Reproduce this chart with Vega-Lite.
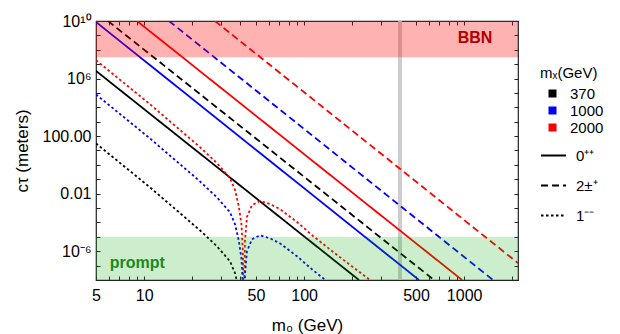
{
  "$schema": "https://vega.github.io/schema/vega-lite/v6.json",
  "width": 422,
  "height": 259,
  "autosize": {"type": "none"},
  "padding": {"left": 96, "top": 21, "right": 102, "bottom": 54},
  "background": "white",
  "data": {"values": [{"one": 1}]},
  "config": {
    "view": {"stroke": "#222222", "strokeWidth": 1.2, "strokeOpacity": 1},
    "font": "Liberation Sans",
    "axis": {
      "grid": false,
      "domain": false,
      "ticks": true,
      "offset": -4,
      "tickColor": "#222222",
      "tickOpacity": 1,
      "tickWidth": 1,
      "tickSize": 4,
      "labelFont": "Liberation Sans",
      "labelFontSize": 16,
      "labelColor": "#000000",
      "labelFlush": false,
      "labelOverlap": false,
      "titleFont": "Liberation Sans",
      "titleFontSize": 17,
      "titleFontWeight": "normal",
      "titleColor": "#000000"
    },
    "legend": {
      "labelFont": "Liberation Sans",
      "titleFont": "Liberation Sans",
      "labelFontSize": 15,
      "titleFontSize": 15,
      "titleFontWeight": "normal",
      "labelColor": "#000000",
      "titleColor": "#000000",
      "padding": 0
    }
  },
  "datasets": {
    "lines": [
      {"mx": "370", "par": "0⁺⁺", "m": 5, "ct": 3.4e6},
      {"mx": "370", "par": "0⁺⁺", "m": 220, "ct": 1e-8},
      {"mx": "1000", "par": "0⁺⁺", "m": 5, "ct": 8.5e9},
      {"mx": "1000", "par": "0⁺⁺", "m": 522, "ct": 1e-8},
      {"mx": "2000", "par": "0⁺⁺", "m": 9.02, "ct": 1e10},
      {"mx": "2000", "par": "0⁺⁺", "m": 970, "ct": 1e-8},
      {"mx": "370", "par": "2±⁺", "m": 5.94, "ct": 1e10},
      {"mx": "370", "par": "2±⁺", "m": 648, "ct": 1e-8},
      {"mx": "1000", "par": "2±⁺", "m": 14.3, "ct": 1e10},
      {"mx": "1000", "par": "2±⁺", "m": 1514, "ct": 1e-8},
      {"mx": "2000", "par": "2±⁺", "m": 27.7, "ct": 1e10},
      {"mx": "2000", "par": "2±⁺", "m": 2170, "ct": 1.5e-7},
      {"mx": "2000", "par": "1⁻⁻", "m": 5, "ct": 1.88e7},
      {"mx": "2000", "par": "1⁻⁻", "m": 10.87, "ct": 1.66e4},
      {"mx": "2000", "par": "1⁻⁻", "m": 22.3, "ct": 17.2},
      {"mx": "2000", "par": "1⁻⁻", "m": 28.5, "ct": 1.33},
      {"mx": "2000", "par": "1⁻⁻", "m": 34.4, "ct": 0.121},
      {"mx": "2000", "par": "1⁻⁻", "m": 37.0, "ct": 0.0178},
      {"mx": "2000", "par": "1⁻⁻", "m": 39.1, "ct": 1.18e-3},
      {"mx": "2000", "par": "1⁻⁻", "m": 40.6, "ct": 6.6e-5},
      {"mx": "2000", "par": "1⁻⁻", "m": 41.35, "ct": 1.22e-6},
      {"mx": "2000", "par": "1⁻⁻", "m": 41.65, "ct": 1e-8},
      {"mx": "2000", "par": "1⁻⁻", "m": 41.8, "ct": 1e-12},
      {"mx": "2000", "par": "1⁻⁻", "m": 42.7, "ct": 6.05e-6},
      {"mx": "2000", "par": "1⁻⁻", "m": 43.9, "ct": 2.38e-4},
      {"mx": "2000", "par": "1⁻⁻", "m": 47.2, "ct": 1.62e-3},
      {"mx": "2000", "par": "1⁻⁻", "m": 53.0, "ct": 3.08e-3},
      {"mx": "2000", "par": "1⁻⁻", "m": 61.2, "ct": 1.9e-3},
      {"mx": "2000", "par": "1⁻⁻", "m": 70.6, "ct": 8.5e-4},
      {"mx": "2000", "par": "1⁻⁻", "m": 90.2, "ct": 1.07e-4},
      {"mx": "2000", "par": "1⁻⁻", "m": 113.6, "ct": 1.15e-5},
      {"mx": "2000", "par": "1⁻⁻", "m": 160.4, "ct": 5.5e-7},
      {"mx": "2000", "par": "1⁻⁻", "m": 257.9, "ct": 1e-8},
      {"mx": "1000", "par": "1⁻⁻", "m": 5, "ct": 7.84e4},
      {"mx": "1000", "par": "1⁻⁻", "m": 10.87, "ct": 69.2},
      {"mx": "1000", "par": "1⁻⁻", "m": 22.3, "ct": 0.0717},
      {"mx": "1000", "par": "1⁻⁻", "m": 28.5, "ct": 5.54e-3},
      {"mx": "1000", "par": "1⁻⁻", "m": 34.4, "ct": 5.04e-4},
      {"mx": "1000", "par": "1⁻⁻", "m": 37.0, "ct": 7.42e-5},
      {"mx": "1000", "par": "1⁻⁻", "m": 39.1, "ct": 4.92e-6},
      {"mx": "1000", "par": "1⁻⁻", "m": 40.6, "ct": 2.75e-7},
      {"mx": "1000", "par": "1⁻⁻", "m": 41.35, "ct": 5.09e-9},
      {"mx": "1000", "par": "1⁻⁻", "m": 41.8, "ct": 1e-12},
      {"mx": "1000", "par": "1⁻⁻", "m": 42.7, "ct": 2.52e-8},
      {"mx": "1000", "par": "1⁻⁻", "m": 43.9, "ct": 9.92e-7},
      {"mx": "1000", "par": "1⁻⁻", "m": 47.2, "ct": 6.75e-6},
      {"mx": "1000", "par": "1⁻⁻", "m": 53.0, "ct": 1.28e-5},
      {"mx": "1000", "par": "1⁻⁻", "m": 61.2, "ct": 7.9e-6},
      {"mx": "1000", "par": "1⁻⁻", "m": 70.6, "ct": 3.5e-6},
      {"mx": "1000", "par": "1⁻⁻", "m": 90.2, "ct": 4.46e-7},
      {"mx": "1000", "par": "1⁻⁻", "m": 113.6, "ct": 4.8e-8},
      {"mx": "1000", "par": "1⁻⁻", "m": 160.4, "ct": 2.3e-9},
      {"mx": "370", "par": "1⁻⁻", "m": 5, "ct": 31.2},
      {"mx": "370", "par": "1⁻⁻", "m": 10.87, "ct": 0.0276},
      {"mx": "370", "par": "1⁻⁻", "m": 22.3, "ct": 2.86e-5},
      {"mx": "370", "par": "1⁻⁻", "m": 28.5, "ct": 2.2e-6},
      {"mx": "370", "par": "1⁻⁻", "m": 34.4, "ct": 2.0e-7},
      {"mx": "370", "par": "1⁻⁻", "m": 37.0, "ct": 2.95e-8},
      {"mx": "370", "par": "1⁻⁻", "m": 39.1, "ct": 1.96e-9}
    ]
  },
  "layer": [
    {
      "mark": {"type": "rule", "color": "#cccccc", "strokeWidth": 4},
      "encoding": {
        "x": {
          "datum": 397,
          "type": "quantitative",
          "scale": {"type": "log", "domain": [5, 2170], "nice": false},
          "axis": {
            "orient": "top",
            "title": null,
            "labels": false,
            "values": [5, 6, 7, 8, 9, 10, 20, 30, 40, 50, 60, 70, 80, 90, 100, 200, 300, 400, 500, 600, 700, 800, 900, 1000, 2000]
          }
        }
      }
    },
    {
      "data": {"name": "lines"},
      "mark": {"type": "line", "clip": true, "strokeWidth": 1.8},
      "encoding": {
        "x": {
          "field": "m",
          "type": "quantitative",
          "scale": {"type": "log", "domain": [5, 2170], "nice": false},
          "axis": {
            "orient": "bottom",
            "title": "m₀ (GeV)",
            "values": [5, 6, 7, 8, 9, 10, 20, 30, 40, 50, 60, 70, 80, 90, 100, 200, 300, 400, 500, 600, 700, 800, 900, 1000, 2000],
            "labelExpr": "indexof([5, 10, 50, 100, 500, 1000], datum.value) >= 0 ? format(datum.value, 'd') : ''",
            "labelPadding": 7,
            "titlePadding": 14
          }
        },
        "y": {
          "field": "ct",
          "type": "quantitative",
          "scale": {"type": "log", "domain": [1e-8, 1e10], "nice": false},
          "axis": {
            "orient": "left",
            "title": "cτ (meters)",
            "values": [1e-8, 1e-7, 1e-6, 1e-5, 1e-4, 1e-3, 1e-2, 1e-1, 1, 10, 100, 1000, 1e4, 1e5, 1e6, 1e7, 1e8, 1e9, 1e10],
            "labelExpr": "datum.value > 9e9 ? '10¹⁰' : (datum.value > 9e5 && datum.value < 2e6) ? '10⁶' : (datum.value > 90 && datum.value < 200) ? '100.00' : (datum.value > 0.009 && datum.value < 0.02) ? '0.01' : (datum.value > 9e-7 && datum.value < 2e-6) ? '10⁻⁶' : ''",
            "labelPadding": 5,
            "titlePadding": 11
          }
        },
        "color": {
          "field": "mx",
          "type": "nominal",
          "scale": {"domain": ["370", "1000", "2000"], "range": ["#000000", "#0000ff", "#ff0000"]},
          "legend": {
            "orient": "none",
            "legendX": 444,
            "legendY": 45,
            "title": "mₓ(GeV)",
            "symbolType": "square",
            "symbolSize": 64,
            "symbolOffset": 5,
            "labelOffset": 10,
            "rowPadding": 1,
            "encode": {"symbols": {"update": {"fill": {"scale": "color", "field": "value"}, "fillOpacity": {"value": 1}, "strokeWidth": {"value": 0}}}}
          }
        },
        "strokeDash": {
          "field": "par",
          "type": "nominal",
          "scale": {"domain": ["0⁺⁺", "2±⁺", "1⁻⁻"], "range": [[1, 0], [7, 4], [2.5, 2.5]]},
          "legend": {
            "orient": "none",
            "legendX": 444,
            "legendY": 121,
            "title": null,
            "symbolType": "stroke",
            "symbolSize": 625,
            "symbolStrokeColor": "#000000",
            "symbolStrokeWidth": 1.8,
            "labelOffset": 9,
            "rowPadding": 8
          }
        },
        "detail": {"field": "par"}
      }
    },
    {
      "mark": {"type": "rect", "color": "#ff0000", "opacity": 0.3},
      "encoding": {
        "x": {"datum": 5, "type": "quantitative", "scale": {"type": "log", "domain": [5, 2170], "nice": false}, "axis": null},
        "x2": {"datum": 2170},
        "y": {
          "datum": 3e7,
          "type": "quantitative",
          "scale": {"type": "log", "domain": [1e-8, 1e10], "nice": false},
          "axis": {
            "orient": "right",
            "title": null,
            "labels": false,
            "values": [1e-8, 1e-7, 1e-6, 1e-5, 1e-4, 1e-3, 1e-2, 1e-1, 1, 10, 100, 1000, 1e4, 1e5, 1e6, 1e7, 1e8, 1e9, 1e10]
          }
        },
        "y2": {"datum": 1e10}
      }
    },
    {
      "mark": {"type": "rect", "color": "#00a800", "opacity": 0.2},
      "encoding": {
        "x": {"datum": 5, "type": "quantitative", "scale": {"type": "log", "domain": [5, 2170], "nice": false}, "axis": null},
        "x2": {"datum": 2170},
        "y": {"datum": 1e-8, "type": "quantitative", "scale": {"type": "log", "domain": [1e-8, 1e10], "nice": false}, "axis": null},
        "y2": {"datum": 1e-5}
      }
    },
    {
      "mark": {"type": "text", "text": "BBN", "font": "Liberation Sans", "fontSize": 16, "fontWeight": "bold", "color": "#b00000", "align": "center", "baseline": "middle"},
      "encoding": {
        "x": {"datum": 1169, "type": "quantitative", "scale": {"type": "log", "domain": [5, 2170], "nice": false}, "axis": null},
        "y": {"datum": 6.3e8, "type": "quantitative", "scale": {"type": "log", "domain": [1e-8, 1e10], "nice": false}, "axis": null}
      }
    },
    {
      "mark": {"type": "text", "text": "prompt", "font": "Liberation Sans", "fontSize": 16, "fontWeight": "bold", "color": "#1a8a1a", "align": "left", "baseline": "middle"},
      "encoding": {
        "x": {"datum": 6.1, "type": "quantitative", "scale": {"type": "log", "domain": [5, 2170], "nice": false}, "axis": null},
        "y": {"datum": 1.55e-7, "type": "quantitative", "scale": {"type": "log", "domain": [1e-8, 1e10], "nice": false}, "axis": null}
      }
    }
  ],
  "resolve": {"axis": {"x": "independent", "y": "independent"}}
}
